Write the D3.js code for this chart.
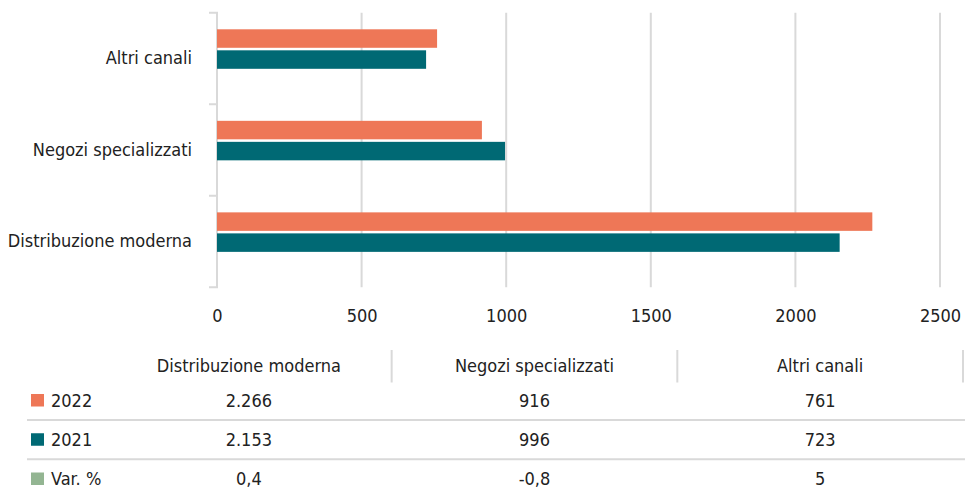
<!DOCTYPE html>
<html><head><meta charset="utf-8">
<script src="https://cdn.jsdelivr.net/npm/d3@7"></script>
<style>
body{margin:0;background:#fff;}
svg text{font-family:"Liberation Sans Narrow","DejaVu Sans Condensed",sans-serif;fill:#222;}
</style></head>
<body><svg id="c" width="965" height="494"></svg>
<script>
const categories = ["Altri canali","Negozi specializzati","Distribuzione moderna"];
const tableCategories = ["Distribuzione moderna","Negozi specializzati","Altri canali"];
const seriesNames = ["2022","2021"];
const values2022 = [761, 916, 2266];
const values2021 = [723, 996, 2153];
const tableRows = [
  {name:"2022", vals:["2.266","916","761"]},
  {name:"2021", vals:["2.153","996","723"]},
  {name:"Var. %", vals:["0,4","-0,8","5"]}
];
const xTicks = [0,500,1000,1500,2000,2500];
const colors = {"2022":"#EE7757","2021":"#006974","Var. %":"#93B592"};
const FS = 18;

const svg = d3.select("#c");
const x = d3.scaleLinear().domain([0,2500]).range([217,940]);
const y = d3.scaleBand().domain(categories).range([12.7,287.3]);
const ySub = d3.scaleBand().domain(seriesNames).range([16.6,56.1]).paddingInner(0.12);

// gridlines
svg.append("g").selectAll("line").data(xTicks.slice(1)).join("line")
  .attr("x1",d=>x(d)).attr("x2",d=>x(d)).attr("y1",12.7).attr("y2",287.3)
  .attr("stroke","#d9d9d9").attr("stroke-width",2);

// y axis
const yAxis = svg.append("g").attr("transform","translate(217,0)")
  .call(d3.axisLeft(y).tickSize(0).tickPadding(25));
yAxis.select(".domain").attr("stroke","#d9d9d9").attr("stroke-width",2).attr("d","M-8,12.7H0V287.3H-8");
yAxis.selectAll("text").attr("font-size",FS).attr("fill","#222");
svg.append("g").selectAll("line").data([categories[1],categories[2]]).join("line")
  .attr("x1",209).attr("x2",217).attr("y1",d=>y(d)).attr("y2",d=>y(d))
  .attr("stroke","#d9d9d9").attr("stroke-width",2);

// x axis labels
const xAxis = svg.append("g").attr("transform","translate(0,305)")
  .call(d3.axisBottom(x).tickValues(xTicks).tickSize(0).tickPadding(4).tickFormat(d3.format("d")));
xAxis.select(".domain").remove();
xAxis.selectAll("text").attr("font-size",FS).attr("fill","#222");

// bars
const data = categories.map((c,i)=>({cat:c, vals:[{s:"2022",v:values2022[i]},{s:"2021",v:values2021[i]}]}));
const g = svg.append("g").selectAll("g").data(data).join("g")
  .attr("transform",d=>`translate(0,${y(d.cat)})`);
g.selectAll("rect").data(d=>d.vals).join("rect")
  .attr("x",x(0)).attr("y",d=>ySub(d.s))
  .attr("width",d=>x(d.v)-x(0)).attr("height",ySub.bandwidth())
  .attr("fill",d=>colors[d.s]);

// table
const colX = d3.scaleBand().domain(tableCategories).range([106,963]);
const tbl = svg.append("g");
tbl.selectAll("text.h").data(tableCategories).join("text").attr("class","h")
  .attr("x",d=>colX(d)+colX.bandwidth()/2).attr("y",371.5)
  .attr("text-anchor","middle").attr("font-size",FS).text(d=>d);
tbl.selectAll("line.v").data(tableCategories).join("line").attr("class","v")
  .attr("x1",d=>colX(d)+colX.bandwidth()).attr("x2",d=>colX(d)+colX.bandwidth())
  .attr("y1",350).attr("y2",382.5).attr("stroke","#d9d9d9").attr("stroke-width",2);
const rowY = d3.scalePoint().domain(tableRows.map(r=>r.name)).range([406.5,485]);
tbl.selectAll("line.hs").data(tableRows.slice(0,2)).join("line").attr("class","hs")
  .attr("x1",27).attr("x2",965)
  .attr("y1",d=>rowY(d.name)+13.5).attr("y2",d=>rowY(d.name)+13.5)
  .attr("stroke","#d9d9d9").attr("stroke-width",2);
const rows = tbl.selectAll("g.r").data(tableRows).join("g").attr("class","r")
  .attr("transform",d=>`translate(0,${rowY(d.name)})`);
rows.append("rect").attr("x",31).attr("y",-12.5).attr("width",13).attr("height",12.5)
  .attr("fill",d=>colors[d.name]);
rows.append("text").attr("x",51).attr("y",0).attr("font-size",FS).text(d=>d.name);
rows.selectAll("text.v").data(d=>d.vals.map((v,i)=>({v,c:tableCategories[i]}))).join("text").attr("class","v")
  .attr("x",d=>colX(d.c)+colX.bandwidth()/2).attr("y",0)
  .attr("text-anchor","middle").attr("font-size",FS).text(d=>d.v);
</script></body></html>
